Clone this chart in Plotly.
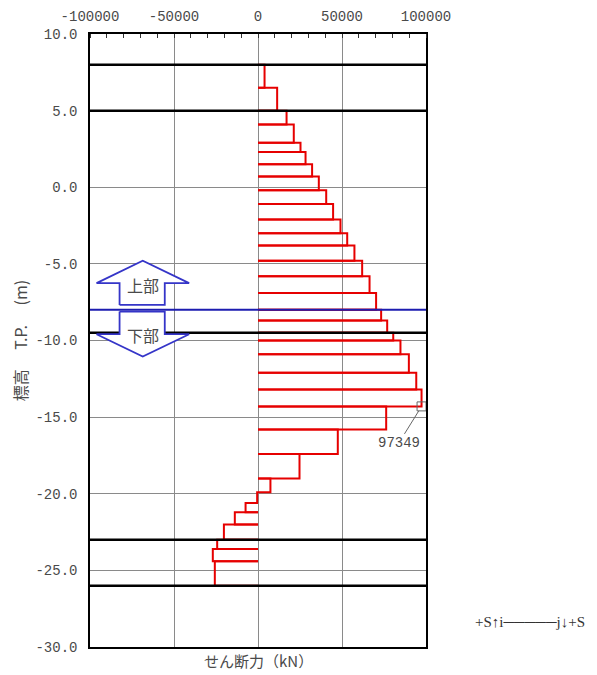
import plotly.graph_objects as go

# ---- data ----
node_elev = [8.0, 6.5, 5.0, 4.1, 2.9, 2.3, 1.5, 0.7, -0.2, -1.1, -2.1, -3.0, -3.8,
             -4.8, -5.8, -6.9, -8.0, -8.7, -9.5, -10.0, -10.9, -12.1, -13.2, -14.3,
             -15.8, -17.4, -19.0, -19.9, -20.6, -21.2, -22.0, -23.0, -23.6, -24.4, -26.0]
shear = [3900, 11400, 17000, 21300, 25300, 28300, 32200, 36200, 40600, 44700, 49100,
         53100, 57400, 62000, 66400, 70300, 73300, 76900, 80500, 84800, 89800, 94200,
         97349, 76300, 47500, 24700, 7400, -500, -7400, -13800, -20300, -24300,
         -26900, -25700]
layer_lines = [8.0, 5.0, -9.5, -23.0, -26.0]
boundary_line = -8.0
max_value = 97349
max_elev = -14.3
x_tickvals = [-100000, -50000, 0, 50000, 100000]
x_ticktext = ["-100000", "-50000", "0", "50000", "100000"]
y_tickvals = [10, 5, 0, -5, -10, -15, -20, -25, -30]
y_ticktext = ["10.0", "5.0", "0.0", "-5.0", "-10.0", "-15.0", "-20.0", "-25.0", "-30.0"]

# arrow outline geometry (decorative)
ax_l, ax_r, hd_l, hd_r, tip_x = -82.4e3, -55.5e3, -96.1e3, -41.0e3, -68.6e3
up_tip, up_base, up_bot = -4.79, -6.26, -7.68
lo_top, lo_base, lo_tip = -8.11, -9.59, -11.05

NUM_FONT = "Liberation Mono"
JP_FONT = "Noto Sans CJK JP"
GRAY = "#4a4a4a"

fig = go.Figure()

# shear rectangles
xs, ys = [], []
for i, v in enumerate(shear):
    top, bot = node_elev[i], node_elev[i + 1]
    xs += [0, v, v, 0, None]
    ys += [top, top, bot, bot, None]
fig.add_trace(go.Scatter(x=xs, y=ys, mode="lines",
                         line=dict(color="#e60000", width=2), hoverinfo="skip"))

# black layer lines
for e in layer_lines:
    fig.add_trace(go.Scatter(x=[-100000, 100000], y=[e, e], mode="lines",
                             line=dict(color="black", width=2.5), hoverinfo="skip"))
# blue boundary line
fig.add_trace(go.Scatter(x=[-100000, 100000], y=[boundary_line, boundary_line], mode="lines",
                         line=dict(color="#1c1cb0", width=2), hoverinfo="skip"))

# arrows
up_x = [ax_l, ax_l, hd_l, tip_x, hd_r, ax_r, ax_r, ax_l]
up_y = [up_bot, up_base, up_base, up_tip, up_base, up_base, up_bot, up_bot]
lo_x = [ax_l, ax_l, hd_l, tip_x, hd_r, ax_r, ax_r, ax_l]
lo_y = [lo_top, lo_base, lo_base, lo_tip, lo_base, lo_base, lo_top, lo_top]
for px, py in [(up_x, up_y), (lo_x, lo_y)]:
    fig.add_trace(go.Scatter(x=px, y=py, mode="lines", fill="toself", fillcolor="white",
                             line=dict(color="#3535c8", width=1.8), hoverinfo="skip"))

# max marker
fig.add_trace(go.Scatter(x=[max_value], y=[max_elev], mode="markers",
                         marker=dict(symbol="square-open", size=9,
                                     color="#666", line=dict(width=1, color="#666")),
                         hoverinfo="skip"))

fig.add_annotation(x=max_value, y=max_elev, text=str(max_value), showarrow=True,
                   arrowhead=0, arrowwidth=1, arrowcolor="#666", ax=-23, ay=37,
                   standoff=5, font=dict(family=NUM_FONT, size=14, color=GRAY))
fig.add_annotation(x=-68.6e3, y=-6.4, text="上部", showarrow=False,
                   font=dict(family=JP_FONT, size=16, color=GRAY))
fig.add_annotation(x=-68.6e3, y=-9.65, text="下部", showarrow=False,
                   font=dict(family=JP_FONT, size=16, color=GRAY))
fig.add_annotation(xref="paper", yref="paper", x=1.31, y=0.041,
                   xanchor="center", yanchor="middle",
                   text="+S↑i─────j↓+S", showarrow=False,
                   font=dict(family="Liberation Serif", size=15, color="#333"))

# page body has an 8px default margin: size the figure so it fits the 597x675 window
fig.update_layout(
    width=589, height=667,
    margin=dict(l=82, r=171, t=26, b=28),
    paper_bgcolor="white", plot_bgcolor="white",
    showlegend=False,
    xaxis=dict(range=[-100000, 100000], side="top", tickvals=x_tickvals, ticktext=x_ticktext,
               tickfont=dict(family=NUM_FONT, size=14, color=GRAY), automargin=False,
               showgrid=True, gridcolor="#8a8a8a", gridwidth=1, zeroline=False,
               showline=True, linecolor="black", linewidth=1.5, mirror=True,
               ticks="outside", ticklen=6, tickcolor="rgba(0,0,0,0)",
               minor=dict(dtick=10000, ticks="inside", ticklen=4,
                          tickcolor="#333", showgrid=False),
               title=None),
    yaxis=dict(range=[-30, 10], tickvals=y_tickvals, ticktext=y_ticktext,
               tickfont=dict(family=NUM_FONT, size=14, color=GRAY), automargin=False,
               showgrid=True, gridcolor="#8a8a8a", gridwidth=1, zeroline=False,
               showline=True, linecolor="black", linewidth=1.5, mirror=True,
               ticks="outside", ticklen=8, tickcolor="rgba(0,0,0,0)",
               title=dict(text="標高　 T.P.　 (m)", standoff=14,
                          font=dict(family=JP_FONT, size=16, color=GRAY))),
)
fig.add_annotation(xref="paper", yref="paper", x=0.5, y=0, yanchor="middle", yshift=-13,
                   text="せん断力（kN）", showarrow=False,
                   font=dict(family=JP_FONT, size=15, color=GRAY))

fig.write_html("out.html")
